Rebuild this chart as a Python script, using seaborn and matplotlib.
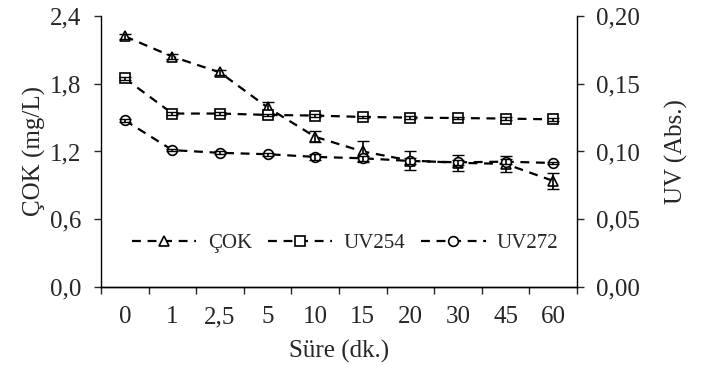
import matplotlib

matplotlib.use("Agg")
import matplotlib.pyplot as plt  # noqa: E402
import numpy as np  # noqa: E402
import pandas as pd  # noqa: E402
import seaborn as sns  # noqa: E402
from matplotlib.ticker import FixedLocator, FuncFormatter  # noqa: E402

# --- data ---
times = ["0", "1", "2,5", "5", "10", "15", "20", "30", "45", "60"]
cok = [2.22, 2.04, 1.90, 1.59, 1.33, 1.20, 1.12, 1.10, 1.09, 0.94]
cok_err = [0.02, 0.02, 0.02, 0.05, 0.05, 0.09, 0.08, 0.07, 0.07, 0.07]
uv254 = [0.154, 0.128, 0.128, 0.127, 0.1265, 0.1255, 0.125, 0.1247, 0.1243, 0.1237]
uv254_err = [0.001, 0.001, 0.001, 0.001, 0.001, 0.001, 0.001, 0.001, 0.001, 0.001]
uv272 = [0.123, 0.101, 0.099, 0.098, 0.096, 0.095, 0.093, 0.092, 0.0925, 0.0915]
uv272_err = [0.001, 0.001, 0.001, 0.001, 0.002, 0.002, 0.002, 0.002, 0.002, 0.001]

sns.set_theme(style="ticks")
plt.rcParams["font.family"] = ["Liberation Serif", "DejaVu Serif"]
fs = 18
plt.rcParams.update({
    "font.size": fs,
    "axes.labelsize": fs,
    "xtick.labelsize": fs,
    "ytick.labelsize": fs,
    "legend.fontsize": 15,
})

df = pd.DataFrame({"pos": np.arange(len(times)), "cok": cok,
                   "uv254": uv254, "uv272": uv272})

fig = plt.figure(figsize=(7.04, 3.65), dpi=100)
ax = fig.add_axes([0.1435, 0.2137, 0.676, 0.7425])
ax2 = ax.twinx()

line_kw = dict(color="black", linestyle=(0, (4, 3)), linewidth=1.6,
               markersize=7, markerfacecolor="white", markeredgecolor="black",
               markeredgewidth=1.2)

sns.lineplot(data=df, x="pos", y="cok", ax=ax, marker="^", label="ÇOK",
             legend=False, **line_kw)
ax.errorbar(df["pos"], df["cok"], yerr=cok_err, fmt="none", ecolor="black",
            elinewidth=1.2, capsize=4)

sns.lineplot(data=df, x="pos", y="uv254", ax=ax2, marker="s", label="UV254",
             legend=False, **line_kw)
sns.lineplot(data=df, x="pos", y="uv272", ax=ax2, marker="o", label="UV272",
             legend=False, **line_kw)
ax2.errorbar(df["pos"], df["uv254"], yerr=uv254_err, fmt="none",
             ecolor="black", elinewidth=1.2, capsize=4)
ax2.errorbar(df["pos"], df["uv272"], yerr=uv272_err, fmt="none",
             ecolor="black", elinewidth=1.2, capsize=4)

# axes, ticks, formatting
ax.set_xlim(-0.5, len(times) - 0.5)
ax.set_ylim(0, 2.4)
ax.set_yticks([0, 0.6, 1.2, 1.8, 2.4])
ax.yaxis.set_major_formatter(FuncFormatter(lambda v, _: f"{v:.1f}".replace(".", ",")))
ax2.set_ylim(0, 0.2)
ax2.set_yticks([0, 0.05, 0.10, 0.15, 0.20])
ax2.yaxis.set_major_formatter(FuncFormatter(lambda v, _: f"{v:.2f}".replace(".", ",")))

# Excel-style category axis: ticks between categories, labels centred
ax.xaxis.set_major_locator(FixedLocator(np.arange(-0.5, len(times), 1.0)))
ax.xaxis.set_major_formatter(FuncFormatter(lambda v, _: ""))
ax.xaxis.set_minor_locator(FixedLocator(np.arange(len(times))))
ax.set_xticklabels(times, minor=True)
ax.tick_params(axis="x", which="minor", length=0, pad=14)
ax.tick_params(axis="x", which="major", length=5, width=1, direction="out")
ax.tick_params(axis="y", length=5, width=1, direction="out", pad=9)
ax2.tick_params(axis="y", length=5, width=1, direction="out", pad=9)

for a in (ax, ax2):
    a.spines["top"].set_visible(False)
    for s in ("left", "right", "bottom"):
        a.spines[s].set_linewidth(1.0)
        a.spines[s].set_color("black")
ax.spines["right"].set_visible(False)
ax2.spines["left"].set_visible(False)

ax.set_xlabel("Süre (dk.)", labelpad=8)
ax.set_ylabel("ÇOK (mg/L)", labelpad=3)
ax2.set_ylabel("UV (Abs.)", labelpad=18)

h1, l1 = ax.get_legend_handles_labels()
h2, l2 = ax2.get_legend_handles_labels()
ax2.legend(h1 + h2, l1 + l2, loc="center", bbox_to_anchor=(0.513, 0.162),
           ncol=3, frameon=False, handlelength=3.1, columnspacing=0.75,
           handletextpad=0.55)

fig.savefig("out.png", dpi=100)
